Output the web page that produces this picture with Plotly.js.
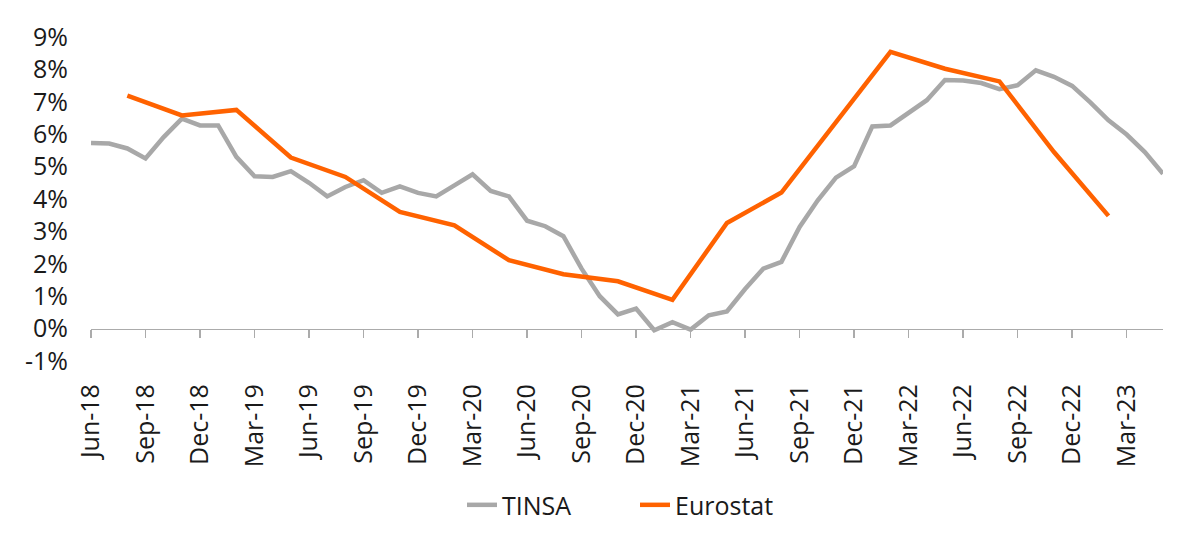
<!DOCTYPE html>
<html>
<head>
<meta charset="utf-8">
<script src="https://cdn.plot.ly/plotly-3.0.1.min.js"></script>
<style>
  html, body { margin: 0; padding: 0; background: #fff; }
  #chart { width: 1200px; height: 552px; }
</style>
</head>
<body>
<div id="chart"></div>
<script>
// monthly categories, Jun-18 .. May-23
const months = [
  "Jun-18", "Jul-18", "Aug-18", "Sep-18", "Oct-18", "Nov-18", "Dec-18",
  "Jan-19", "Feb-19", "Mar-19", "Apr-19", "May-19", "Jun-19", "Jul-19", "Aug-19", "Sep-19", "Oct-19", "Nov-19", "Dec-19",
  "Jan-20", "Feb-20", "Mar-20", "Apr-20", "May-20", "Jun-20", "Jul-20", "Aug-20", "Sep-20", "Oct-20", "Nov-20", "Dec-20",
  "Jan-21", "Feb-21", "Mar-21", "Apr-21", "May-21", "Jun-21", "Jul-21", "Aug-21", "Sep-21", "Oct-21", "Nov-21", "Dec-21",
  "Jan-22", "Feb-22", "Mar-22", "Apr-22", "May-22", "Jun-22", "Jul-22", "Aug-22", "Sep-22", "Oct-22", "Nov-22", "Dec-22",
  "Jan-23", "Feb-23", "Mar-23", "Apr-23", "May-23"
];

const tinsa = [
  5.73, 5.71, 5.56, 5.25, 5.91, 6.48, 6.27, 6.27, 5.30, 4.70,
  4.68, 4.86, 4.50, 4.08, 4.37, 4.58, 4.19, 4.39, 4.19, 4.08,
  4.42, 4.76, 4.25, 4.08, 3.33, 3.16, 2.85, 1.85, 1.00, 0.44,
  0.62, -0.05, 0.20, -0.03, 0.41, 0.53, 1.22, 1.85, 2.06, 3.14,
  3.96, 4.66, 5.01, 6.24, 6.27, 6.64, 7.05, 7.67, 7.66, 7.58,
  7.39, 7.51, 7.97, 7.77, 7.49, 6.98, 6.43, 5.99, 5.45, 4.78
];

// quarterly Eurostat readings
const eurostatMonths = [
  "Aug-18", "Nov-18", "Feb-19", "May-19", "Aug-19", "Nov-19", "Feb-20", "May-20", "Aug-20", "Nov-20",
  "Feb-21", "May-21", "Aug-21", "Nov-21", "Feb-22", "May-22", "Aug-22", "Nov-22", "Feb-23"
];
const eurostat = [
  7.19, 6.58, 6.75, 5.28, 4.68, 3.60, 3.19, 2.11, 1.68, 1.46,
  0.89, 3.26, 4.20, 6.37, 8.54, 8.02, 7.63, 5.45, 3.48
];

const tickMonths = months.filter((m, i) => i % 3 === 0);
const yTicks = [-1, 0, 1, 2, 3, 4, 5, 6, 7, 8, 9];

const font = { family: "Open Sans, Noto Sans, sans-serif", size: 25, color: "#1a1a1a" };

let data = [
  {
    x: months,
    y: tinsa,
    type: "scatter",
    mode: "lines",
    name: "TINSA",
    line: { color: "#A8A8A8", width: 4.5 }
  },
  {
    x: eurostatMonths,
    y: eurostat,
    type: "scatter",
    mode: "lines",
    name: "Eurostat",
    line: { color: "#FF6200", width: 4.5 }
  }
];

let layout = {
  width: 1200,
  height: 552,
  margin: { l: 91, r: 37, t: 37, b: 191 },
  paper_bgcolor: "#fff",
  plot_bgcolor: "#fff",
  font: font,
  showlegend: true,
  legend: {
    orientation: "h",
    xref: "container",
    yref: "container",
    x: 0.385,
    xanchor: "left",
    y: 0.085,
    yanchor: "middle",
    entrywidth: 128,
    font: font
  },
  xaxis: {
    type: "category",
    categoryorder: "array",
    categoryarray: months,
    range: [0, months.length - 1],
    anchor: "free",
    position: 0.1,
    showline: true,
    linecolor: "#ABABAB",
    linewidth: 1.5,
    ticks: "outside",
    ticklen: 8,
    tickcolor: "#ABABAB",
    tickwidth: 1.5,
    tickvals: tickMonths,
    ticktext: tickMonths,
    tickangle: -90,
    ticklabelstandoff: 36,
    showgrid: false,
    zeroline: false,
    tickfont: font
  },
  yaxis: {
    range: [-1, 9],
    tickvals: yTicks,
    ticktext: yTicks.map(v => v + "%"),
    showgrid: false,
    zeroline: false,
    showline: false,
    ticks: "",
    ticklabelstandoff: 22,
    tickfont: font
  }
};

Plotly.newPlot("chart", data, layout, { displayModeBar: false, staticPlot: true });
</script>
</body>
</html>
